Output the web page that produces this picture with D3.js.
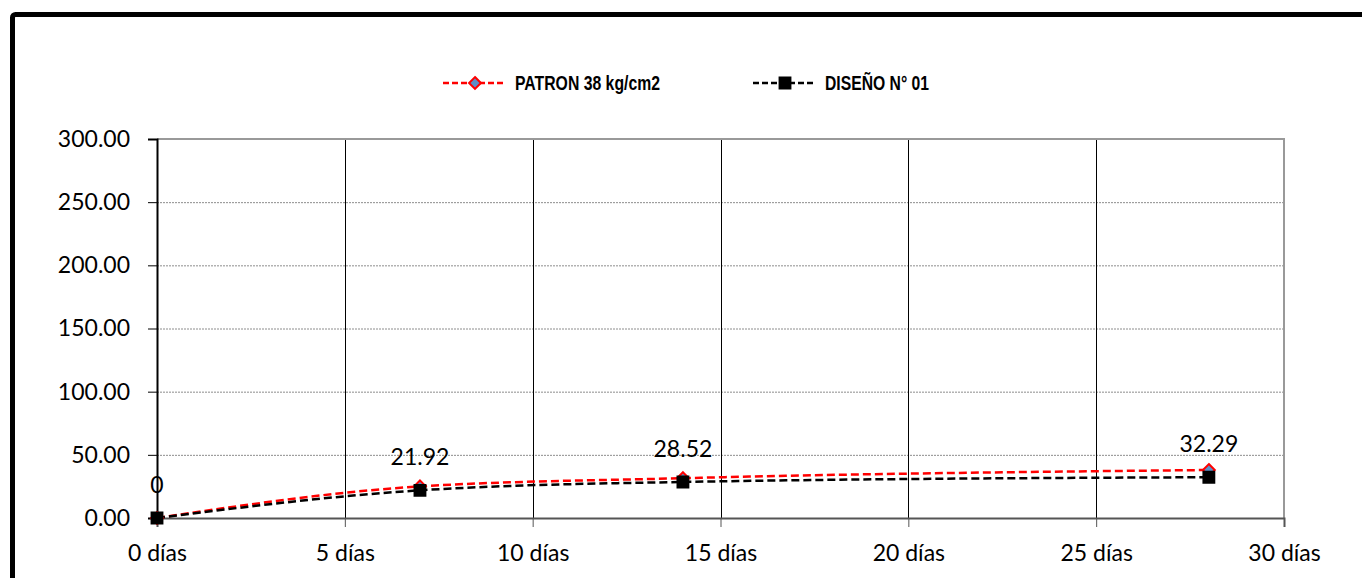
<!DOCTYPE html>
<html>
<head>
<meta charset="utf-8">
<script src="https://cdn.jsdelivr.net/npm/d3@7"></script>
<style>
  html, body { margin: 0; padding: 0; background: #fff; }
  svg { display: block; }
</style>
</head>
<body>
<svg id="chart" width="1362" height="578"></svg>
<script>
// Curing age (days) and compressive strength (kg/cm2)
const days = [0, 7, 14, 28];
const patronValues = [0, 25.0, 31.5, 38.0];
const disenoValues = [0, 21.92, 28.52, 32.29];
const seriesNames = ["PATRON 38 kg/cm2", "DISEÑO N° 01"];
const xTicks = [0, 5, 10, 15, 20, 25, 30];
const yTicks = [0, 50, 100, 150, 200, 250, 300];

const svg = d3.select("#chart");
const W = 1362, H = 578;

// outer chart frame (runs off the right and bottom edges)
svg.append("rect")
  .attr("x", 12.5).attr("y", 14.5)
  .attr("width", W + 40).attr("height", H + 40)
  .attr("rx", 3)
  .attr("fill", "none").attr("stroke", "#000").attr("stroke-width", 5);

const x = d3.scaleLinear().domain([0, 30]).range([157, 1284]);
const y = d3.scaleLinear().domain([0, 300]).range([518, 139]);

const tickFont = "Lato, 'Open Sans', sans-serif";
const tickSize = 23;

// horizontal gridlines
svg.append("g").selectAll("line").data(yTicks.filter(v => v > 0 && v < 300)).join("line")
  .attr("x1", x(0)).attr("x2", x(30))
  .attr("y1", d => y(d) + 0.5).attr("y2", d => y(d) + 0.5)
  .attr("stroke", "#8c8c8c").attr("stroke-width", 1).attr("stroke-dasharray", "2,1");

// vertical gridlines
svg.append("g").selectAll("line").data(xTicks.filter(v => v > 0 && v < 30)).join("line")
  .attr("x1", d => Math.round(x(d)) + 0.5).attr("x2", d => Math.round(x(d)) + 0.5)
  .attr("y1", y(300)).attr("y2", y(0))
  .attr("stroke", "#000").attr("stroke-width", 1);

// plot area frame: top and right edges
svg.append("path")
  .attr("d", `M${x(0)},${y(300)}H${x(30)}V${y(0)}`)
  .attr("fill", "none").attr("stroke", "#999").attr("stroke-width", 2);

// y axis
const yAxis = svg.append("g").attr("transform", `translate(${x(0)},0)`)
  .call(d3.axisLeft(y).tickValues(yTicks).tickFormat(d3.format(".2f")).tickSize(9).tickPadding(18));
yAxis.select(".domain").attr("stroke", "#000").attr("stroke-width", 2);
yAxis.selectAll(".tick line").attr("stroke", "#000").attr("stroke-width", 1);
yAxis.selectAll("text").attr("font-family", tickFont).attr("font-size", tickSize).attr("fill", "#000");

// x axis
const xAxis = svg.append("g").attr("transform", `translate(0,${y(0)})`)
  .call(d3.axisBottom(x).tickValues(xTicks).tickFormat(d => d + " días").tickSize(9).tickPadding(18));
xAxis.select(".domain").attr("stroke", "#555").attr("stroke-width", 2);
xAxis.selectAll(".tick line").attr("stroke", "#555").attr("stroke-width", 1);
xAxis.selectAll("text").attr("font-family", tickFont).attr("font-size", tickSize).attr("fill", "#000");

const line = d3.line().x(d => x(d[0])).y(d => y(d[1])).curve(d3.curveMonotoneX);

const patron = days.map((d, i) => [d, patronValues[i]]);
const diseno = days.map((d, i) => [d, disenoValues[i]]);

// PATRON series
svg.append("path").datum(patron).attr("d", line)
  .attr("fill", "none").attr("stroke", "#ff0000").attr("stroke-width", 2.5).attr("stroke-dasharray", "8,4");
// DISEÑO series
svg.append("path").datum(diseno).attr("d", line)
  .attr("fill", "none").attr("stroke", "#000").attr("stroke-width", 2.5).attr("stroke-dasharray", "8,4");

const diamond = d3.symbol().type(d3.symbolDiamond2).size(90);
const square = d3.symbol().type(d3.symbolSquare2).size(150);

svg.append("g").selectAll("path").data(patron).join("path")
  .attr("d", diamond)
  .attr("transform", d => `translate(${x(d[0])},${y(d[1])})`)
  .attr("fill", "#5b8fc7").attr("stroke", "#ff0000").attr("stroke-width", 2);

svg.append("g").selectAll("path").data(diseno).join("path")
  .attr("d", square)
  .attr("transform", d => `translate(${x(d[0])},${y(d[1])})`)
  .attr("fill", "#000").attr("stroke", "#000").attr("stroke-width", 2);

// value labels for DISEÑO series
svg.append("g").selectAll("text").data(diseno).join("text")
  .attr("x", d => x(d[0])).attr("y", d => y(d[1]) - 25)
  .attr("text-anchor", "middle")
  .attr("font-family", tickFont).attr("font-size", tickSize).attr("fill", "#000")
  .text(d => String(d[1]));

// legend
const legendFont = "'Liberation Sans Narrow', 'Arial Narrow', 'Liberation Sans', sans-serif";
const legend = [
  { name: seriesNames[0], color: "#ff0000", x0: 443, sym: diamond, fill: "#5b8fc7", len: 145 },
  { name: seriesNames[1], color: "#000", x0: 753, sym: square, fill: "#000", len: 104 }
];
const lg = svg.append("g").selectAll("g").data(legend).join("g")
  .attr("transform", d => `translate(${d.x0},83)`);
lg.append("line").attr("x1", 0).attr("x2", 63).attr("y1", 0).attr("y2", 0)
  .attr("stroke", d => d.color).attr("stroke-width", 2.5).attr("stroke-dasharray", "6,3");
lg.append("path").attr("d", d => d.sym()).attr("transform", "translate(32,0)")
  .attr("fill", d => d.fill).attr("stroke", d => d.color).attr("stroke-width", 2);
lg.append("text").attr("x", 72).attr("y", 0).attr("dy", "0.36em")
  .attr("font-family", legendFont).attr("font-weight", "bold").attr("font-size", 20)
  .attr("textLength", d => d.len).attr("lengthAdjust", "spacingAndGlyphs")
  .attr("fill", "#000")
  .text(d => d.name);
</script>
</body>
</html>
